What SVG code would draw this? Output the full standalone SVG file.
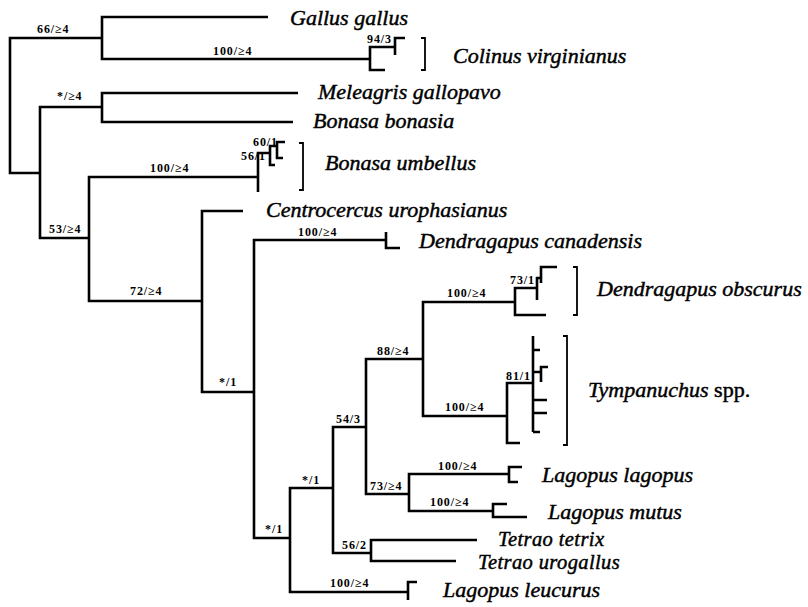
<svg xmlns="http://www.w3.org/2000/svg" width="808" height="607" viewBox="0 0 808 607">
<style>
.e{fill:none;stroke:#000;stroke-width:2.6;stroke-linejoin:miter;stroke-linecap:butt}
.b{fill:none;stroke:#000;stroke-width:1.8}
.s{font-family:"Liberation Serif","Times New Roman",serif;font-weight:bold;font-size:12px;letter-spacing:0.9px;fill:#000}
.t{font-family:"Liberation Serif","Times New Roman",serif;font-style:italic;font-size:22px;fill:#000;stroke:#000;stroke-width:0.45}
.n{font-size:20.5px;letter-spacing:0.4px}
.r{font-style:normal}
</style>
<rect width="808" height="607" fill="#fff"/>
<g id="connectors">
<path class="e" d="M102,38 H10 V173 H40"/>
<path class="e" d="M268,17 H102 V59 H370"/>
<path class="e" d="M385,70 H370 V47 H395"/>
<path class="e" d="M395,55 V38 H405"/>
<path class="e" d="M102,107 H40 V238 H89"/>
<path class="e" d="M298,93 H102 V122 H293"/>
<path class="e" d="M258,177 H89 V301 H202"/>
<path class="e" d="M258,192 V153 H270"/>
<path class="e" d="M275,165 H270 V146 H277"/>
<path class="e" d="M283,158 H277 V142 H285"/>
<path class="e" d="M243,211 H202 V392 H254"/>
<path class="e" d="M386,240 H254 V538 H290"/>
<path class="e" d="M386,232 V248 H400"/>
<path class="e" d="M333,488 H290 V592 H408"/>
<path class="e" d="M408,600 V582 H417"/>
<path class="e" d="M366,427 H333 V553 H371"/>
<path class="e" d="M477,540 H371 V561 H456"/>
<path class="e" d="M423,359 H366 V494 H409"/>
<path class="e" d="M515,302 H423 V416 H507"/>
<path class="e" d="M546,315 H515 V288 H537"/>
<path class="e" d="M537,300 V278 H541"/>
<path class="e" d="M541,283 V267 H557"/>
<path class="e" d="M520,443 H507 V383 H533"/>
<path class="e" d="M533,336 V432"/>
<path class="e" d="M533,350 H540 M533,372 H541 M533,400 H547 M533,413 H547 M533,432 H540"/>
<path class="e" d="M541,382 V367 H548"/>
<path class="e" d="M509,474 H409 V511 H493"/>
<path class="e" d="M522,467 H509 V482 H518"/>
<path class="e" d="M507,504 H493 V517 H527"/>
<path class="b" d="M421,38 H425 V70 H421"/>
<path class="b" d="M299,143 H303 V190 H299"/>
<path class="b" d="M573,267 H577 V315 H573"/>
<path class="b" d="M563,336 H567 V445 H563"/>
</g>
<g id="support">
<text class="s" x="37" y="33">66/≥4</text>
<text class="s" x="213" y="55">100/≥4</text>
<text class="s" x="367" y="43">94/3</text>
<text class="s" x="57" y="100">*/≥4</text>
<text class="s" x="253" y="146">60/1</text>
<text class="s" x="241" y="160">56/1</text>
<text class="s" x="150" y="172">100/≥4</text>
<text class="s" x="49" y="233">53/≥4</text>
<text class="s" x="130" y="295">72/≥4</text>
<text class="s" x="219" y="386">*/1</text>
<text class="s" x="298" y="236">100/≥4</text>
<text class="s" x="447" y="297">100/≥4</text>
<text class="s" x="510" y="284">73/1</text>
<text class="s" x="377" y="355">88/≥4</text>
<text class="s" x="506" y="380">81/1</text>
<text class="s" x="445" y="411">100/≥4</text>
<text class="s" x="336" y="423">54/3</text>
<text class="s" x="302" y="484">*/1</text>
<text class="s" x="370" y="490">73/≥4</text>
<text class="s" x="438" y="470">100/≥4</text>
<text class="s" x="430" y="506">100/≥4</text>
<text class="s" x="342" y="549">56/2</text>
<text class="s" x="265" y="533">*/1</text>
<text class="s" x="330" y="587">100/≥4</text>
</g>
<g id="gallus"><text class="t" x="290" y="25">Gallus gallus</text></g>
<g id="colinus"><text class="t" x="453" y="63">Colinus virginianus</text></g>
<g id="meleagris"><text class="t" x="318" y="99">Meleagris gallopavo</text></g>
<g id="bonasa-bonasia"><text class="t" x="313" y="128">Bonasa bonasia</text></g>
<g id="bonasa-umbellus"><text class="t" x="325" y="170">Bonasa umbellus</text></g>
<g id="centrocercus"><text class="t" x="266" y="217">Centrocercus urophasianus</text></g>
<g id="dendragapus-canadensis"><text class="t" x="419" y="248">Dendragapus canadensis</text></g>
<g id="dendragapus-obscurus"><text class="t" x="597" y="296">Dendragapus obscurus</text></g>
<g id="tympanuchus"><text class="t" x="588" y="397">Tympanuchus<tspan class="r"> spp.</tspan></text></g>
<g id="lagopus-lagopus"><text class="t" x="542" y="482">Lagopus lagopus</text></g>
<g id="lagopus-mutus"><text class="t" x="548" y="519">Lagopus mutus</text></g>
<g id="tetrao-tetrix"><text class="t n" x="498" y="546">Tetrao tetrix</text></g>
<g id="tetrao-urogallus"><text class="t n" x="478" y="569">Tetrao urogallus</text></g>
<g id="lagopus-leucurus"><text class="t" x="443" y="597">Lagopus leucurus</text></g>
</svg>
